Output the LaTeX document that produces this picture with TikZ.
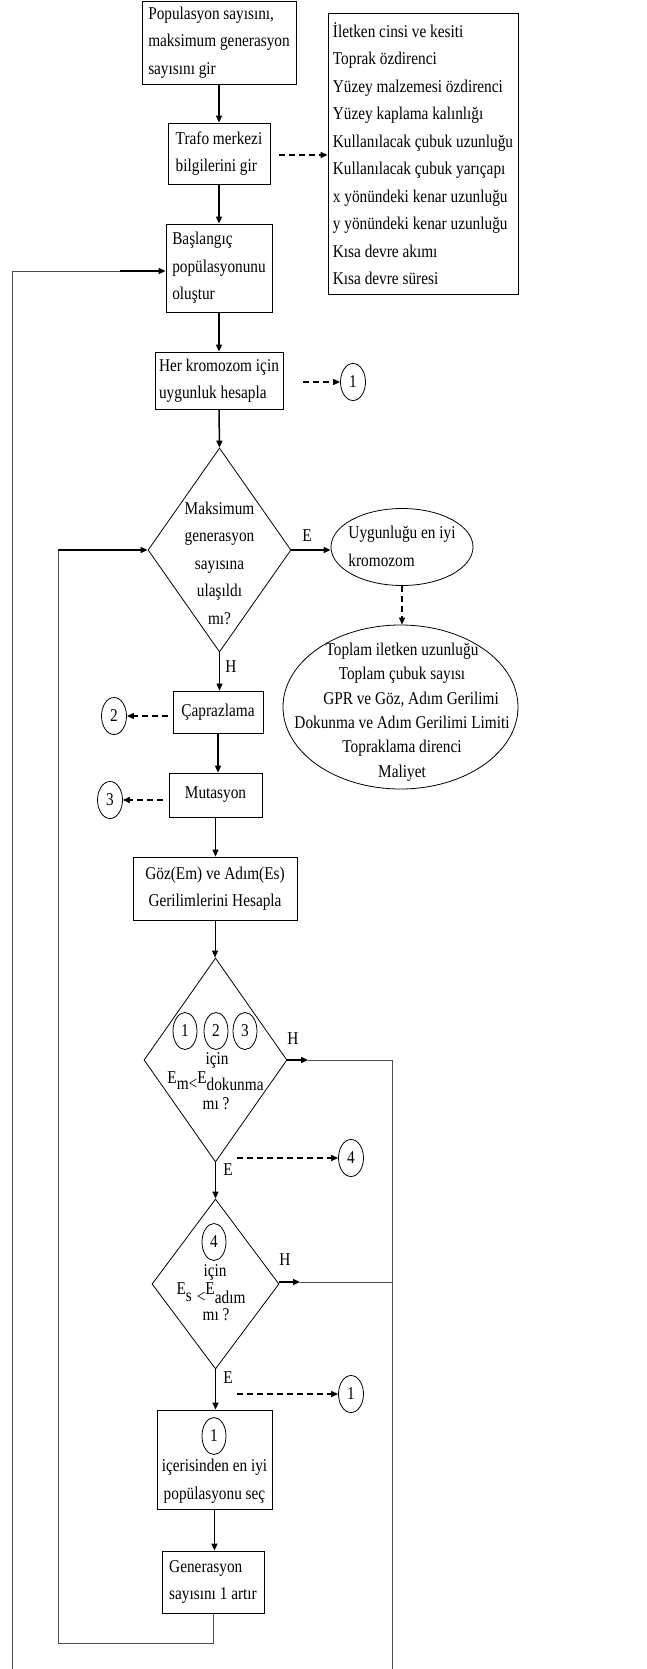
\documentclass[tikz,border=0pt]{standalone}
\usepackage{fontspec}
\setmainfont{Liberation Serif}[FakeStretch=0.85]
\usetikzlibrary{shapes.geometric,arrows.meta,calc}
\begin{document}
\begin{tikzpicture}[x=1pt,y=-1pt,
  every node/.style={font=\fontsize{18}{27.5}\selectfont},
  box/.style={draw,line width=0.8pt,inner sep=0pt,align=left},
  cbox/.style={draw,line width=0.8pt,inner sep=0pt,align=center},
  dia/.style={draw,diamond,line width=0.8pt,inner sep=0pt},
  ell/.style={draw,ellipse,line width=0.8pt,inner sep=0pt},
  circ/.style={draw,ellipse,line width=0.8pt,inner sep=0pt,minimum width=25pt,minimum height=37pt},
  arr/.style={line width=1.5pt,-{Triangle[length=7pt,width=6pt]}},
  tarr/.style={line width=1pt,-{Triangle[length=7pt,width=6pt]}},
  darr/.style={line width=1.2pt,dash pattern=on 6pt off 4pt,-{Triangle[length=7pt,width=6pt]}},
  thinline/.style={line width=0.9pt,draw=black!70},
  lbl/.style={inner sep=0pt}
]
\useasboundingbox (0,0) rectangle (647,1669);

% boxes
\node[box,minimum width=154pt,minimum height=83pt] (b1) at (219,42.5) {Populasyon sayısını,\\maksimum generasyon\\sayısını gir};
\node[box,minimum width=102pt,minimum height=61pt] (b2) at (219,153.5) {Trafo merkezi\\bilgilerini gir};
\node[box,minimum width=190pt,minimum height=281pt] (rb) at (423,153.5) {İletken cinsi ve kesiti\\Toprak özdirenci\\Yüzey malzemesi özdirenci\\Yüzey kaplama kalınlığı\\Kullanılacak çubuk uzunluğu\\Kullanılacak çubuk yarıçapı\\x yönündeki kenar uzunluğu\\y yönündeki kenar uzunluğu\\Kısa devre akımı\\Kısa devre süresi};
\node[box,minimum width=106pt,minimum height=88pt] (b3) at (219,268) {Başlangıç\\popülasyonunu\\oluştur};
\node[box,minimum width=128pt,minimum height=57pt] (b4) at (219,380.5) {Her kromozom için\\uygunluk hesapla};
\node[circ] (c1) at (353,382) {1};

% decision 1
\node[dia,minimum width=143pt,minimum height=204pt] (d1) at (219.5,550) {};
\node[lbl,align=center] (d1t) at (219.5,563) {Maksimum\\generasyon\\sayısına\\ulaşıldı\\mı?};
\node[ell,minimum width=142pt,minimum height=77pt] (e1) at (402,547) {};
\node[lbl,align=left] (e1t) at (402,546.5) {Uygunluğu en iyi\\kromozom};
\node[ell,minimum width=235pt,minimum height=164pt] (e2) at (400.5,707) {};
\node[lbl,align=center,font=\fontsize{18}{24.4}\selectfont] (e2t) at (402,712) {Toplam iletken uzunluğu\\Toplam çubuk sayısı\\\quad GPR ve Göz, Adım Gerilimi\\Dokunma ve Adım Gerilimi Limiti\\Topraklama direnci\\Maliyet};
\node[lbl] (lE1) at (307,536) {E};
\node[lbl] (lH1) at (231,667) {H};

\node[cbox,minimum width=90pt,minimum height=42pt] (cap) at (218,712) {Çaprazlama};
\node[circ] (c2) at (114,716) {2};
\node[cbox,minimum width=93pt,minimum height=44pt] (mut) at (215.5,795) {Mutasyon};
\node[circ] (c3) at (110,800) {3};
\node[cbox,minimum width=164pt,minimum height=63pt] (goz) at (215,888.5) {Göz(Em) ve Adım(Es)\\Gerilimlerini Hesapla};

% decision 2
\node[dia,minimum width=143pt,minimum height=204pt] (d2) at (215.5,1060) {};
\node[circ,minimum width=24pt] (i1) at (185,1031) {1};
\node[circ,minimum width=24pt] (i2) at (216,1031) {2};
\node[circ,minimum width=24pt] (i3) at (245,1031) {3};
\node[lbl,anchor=base] (d2a) at (217,1064) {için};
\node[lbl,anchor=base] (d2b) at (215.5,1083) {E\raisebox{-6pt}{m<}E\raisebox{-7pt}{dokunma}};
\node[lbl,anchor=base] (d2c) at (216,1109) {mı ?};
\node[lbl] (lH2) at (293,1039) {H};
\node[lbl] (lE2) at (228,1170) {E};
\node[circ] (c4) at (351,1158) {4};

% decision 3
\node[dia,minimum width=127pt,minimum height=170pt] (d3) at (215.5,1284) {};
\node[circ,minimum width=24pt] (i4) at (214,1242) {4};
\node[lbl,anchor=base] (d3a) at (215,1276) {için};
\node[lbl,anchor=base] (d3b) at (211,1294) {E\raisebox{-7pt}{s}\hspace{5pt}\raisebox{-8pt}{<}E\raisebox{-9pt}{adım}};
\node[lbl,anchor=base] (d3c) at (216,1320) {mı ?};
\node[lbl] (lH3) at (285,1260) {H};
\node[lbl] (lE3) at (228,1378) {E};
\node[circ] (c5) at (351,1394) {1};

% final boxes
\node[box,minimum width=115pt,minimum height=99pt] (b5) at (214.5,1459.5) {};
\node[circ,minimum width=24pt] (i5) at (214,1436) {1};
\node[lbl,align=center] (b5t) at (214.5,1481) {içerisinden en iyi\\popülasyonu seç};
\node[box,minimum width=102pt,minimum height=62pt] (b6) at (213,1582) {Generasyon\\sayısını 1 artır};

% coordinates
\coordinate (s1) at (279,155);
\coordinate (s2) at (303,382);
\coordinate (s3) at (168,716);
\coordinate (s4) at (163,800);
\coordinate (s5) at (237,1158);
\coordinate (s6) at (237,1394);
\coordinate (h2) at (308,1060);
\coordinate (h3) at (300,1282);
\coordinate (rtop) at (392,1060);
\coordinate (rbot) at (392,1669);
\coordinate (lb1) at (213,1643);
\coordinate (lb2) at (58,1643);
\coordinate (lb3) at (58,550);
\coordinate (lo1) at (12,1669);
\coordinate (lo2) at (12,271);
\coordinate (lo3) at (120,271);

% main flow
\draw[arr] (b1.south) -- (b2.north);
\draw[arr] (b2.south) -- (b3.north);
\draw[arr] (b3.south) -- (b4.north);
\draw[arr] (b4.south) -- (d1.north);
\draw[arr] (d1.east) -- (d1.east -| e1.west);
\draw[tarr] (d1.south) -- (d1.south |- cap.north);
\draw[arr] (cap.south) -- (cap.south |- mut.north);
\draw[tarr] (mut.south) -- (mut.south |- goz.north);
\draw[tarr] (goz.south) -- (goz.south |- d2.north);
\draw[arr] (d2.south) -- (d3.north);
\draw[arr] (d3.south) -- (d3.south |- b5.north);
\draw[arr] (b5.south) -- (b5.south |- b6.north);

% dashed
\draw[darr] (s1) -- (s1 -| rb.west);
\draw[darr] (s2) -- (c1.west);
\draw[darr] (s3) -- (c2.east);
\draw[darr] (s4) -- (c3.east);
\draw[darr] (s5) -- (c4.west);
\draw[darr] (s6) -- (c5.west);
\draw[darr] (e1.south) -- (e1.south |- e2.north);

% H branches
\draw[arr] (d2.east) -- (h2);
\draw[thinline] (h2) -- (rtop) -- (rbot);
\draw[arr] (d3.east |- h3) -- (h3);
\draw[thinline] (h3) -- (h3 -| rtop);

% loops
\draw[thinline] (b6.south) -- (lb1) -- (lb2) -- (lb3);
\draw[arr] (lb3) -- (d1.west);
\draw[thinline] (lo1) -- (lo2) -- (lo3);
\draw[arr] (lo3) -- (lo3 -| b3.west);
\end{tikzpicture}
\end{document}
